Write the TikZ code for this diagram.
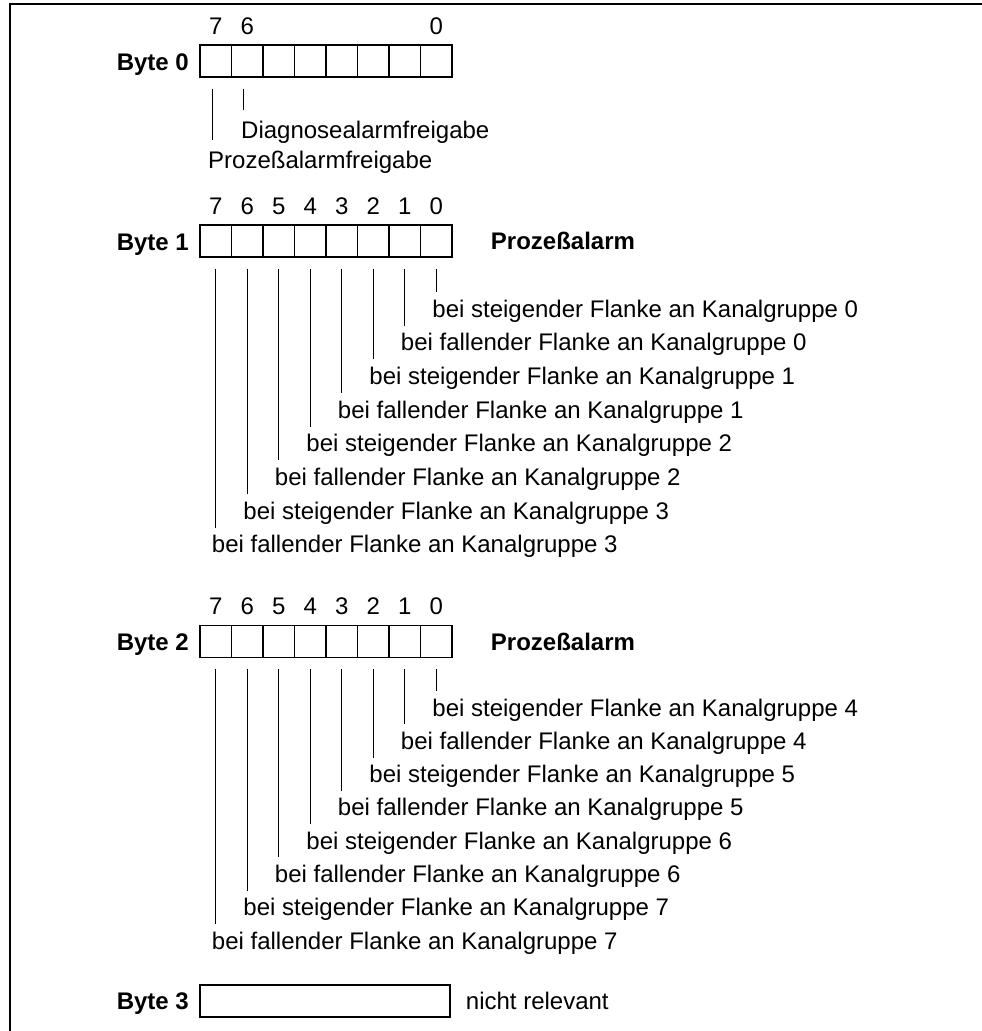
\documentclass[tikz,border=0pt]{standalone}
\usepackage{fontspec}
\setmainfont{Liberation Sans}
\usetikzlibrary{positioning,calc}

\tikzset{
  cell/.style={draw, line width=1.5pt, minimum width=31.5pt, minimum height=32pt, inner sep=0pt},
  bytelbl/.style={font=\fontsize{24}{28}\selectfont\bfseries, anchor=base east},
  bitno/.style={anchor=base},
  desc/.style={anchor=base west},
  leader/.style={line width=1.2pt},
}

\begin{document}
\begin{tikzpicture}[x=1pt, y=-1pt, font=\fontsize{24}{28}\selectfont, inner sep=0pt]
                    \useasboundingbox (0,0) rectangle (982,1031);
                    \draw[line width=2pt] (10,1031) -- (10,4) -- (982,4);
                    % Byte 0
                    \node[bytelbl] (by0) at (189,70) {Byte 0};
                    \foreach \i in {0,...,7}
                        \node[cell] (b0c\i) at ({215.75+31.5*(7-\i)},61) {};
                    \node[bitno] (n0a) at ([yshift=10pt]b0c7.north) {7};
                    \node[bitno] (n0b) at ([yshift=10pt]b0c6.north) {6};
                    \node[bitno] (n0c) at ([yshift=10pt]b0c0.north) {0};
                    \node[desc] (diag) at (241,138) {Diagnosealarmfreigabe};
                    \node[desc] (proz) at (208,168) {Prozeßalarmfreigabe};
                    \draw[leader] ($(b0c6.south)+(-3.5,11)$) -- ($(b0c6.south |- diag.north)+(-3.5,-10.5)$);
                    \draw[leader] ($(b0c7.south)+(-3.5,11)$) -- ($(b0c7.south |- proz.north)+(-3.5,-10.5)$);
                    % Byte 1
                    \node[bytelbl] (by1) at (189,250) {Byte 1};
                    \foreach \i in {0,...,7} {
                        \node[cell] (b1c\i) at ({215.75+31.5*(7-\i)},241) {};
                        \node[bitno] (n1\i) at ([yshift=10pt]b1c\i.north) {\i};
                    }
                    \node[font=\fontsize{24}{28}\selectfont\bfseries, right=38pt of b1c0] (pa1) {Prozeßalarm};
                    \foreach \k/\w/\g in {0/steigender/0,1/fallender/0,2/steigender/1,3/fallender/1,
                                          4/steigender/2,5/fallender/2,6/steigender/3,7/fallender/3} {
                        \node[desc] (t1\k) at ({211.75+31.5*(7-\k)},{317+33.7*\k}) {bei \w\ Flanke an Kanalgruppe \g};
                        \draw[leader] ($(b1c\k.south)+(0,11)$) -- ($(b1c\k.south |- t1\k.north)+(0,-7.5)$);
                    }
                    % Byte 2
                    \node[bytelbl] (by2) at (189,650) {Byte 2};
                    \foreach \i in {0,...,7} {
                        \node[cell] (b2c\i) at ({215.75+31.5*(7-\i)},641.5) {};
                        \node[bitno] (n2\i) at ([yshift=10pt]b2c\i.north) {\i};
                    }
                    \node[font=\fontsize{24}{28}\selectfont\bfseries, right=38pt of b2c0] (pa2) {Prozeßalarm};
                    \foreach \k/\w/\g in {0/steigender/4,1/fallender/4,2/steigender/5,3/fallender/5,
                                          4/steigender/6,5/fallender/6,6/steigender/7,7/fallender/7} {
                        \node[desc] (t2\k) at ({211.75+31.5*(7-\k)},{716+33.3*\k}) {bei \w\ Flanke an Kanalgruppe \g};
                        \draw[leader] ($(b2c\k.south)+(0,11)$) -- ($(b2c\k.south |- t2\k.north)+(0,-7.5)$);
                    }
                    % Byte 3
                    \node[bytelbl] (by3) at (189,1009) {Byte 3};
                    \node[cell, minimum width=250pt] (b3) at (325,1001) {};
                    \node[right=15pt of b3] (nr) {nicht relevant};
                \end{tikzpicture}
\end{document}
